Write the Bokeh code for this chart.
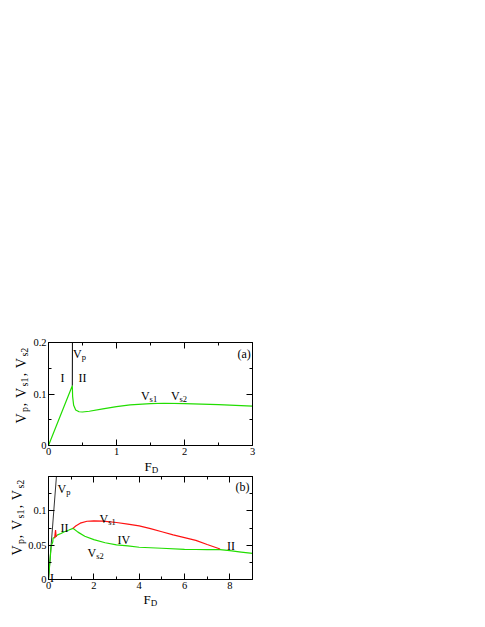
from bokeh.plotting import figure
from bokeh.models import Label, LinearAxis, FixedTicker, CustomJSTickFormatter, Range1d
from bokeh.layouts import column
from bokeh.embed import file_html
from bokeh.resources import INLINE

# ---------------- data: panel (a) ----------------
fa_green = [0, 0.35, 0.355, 0.37, 0.40, 0.45, 0.5, 0.6, 0.8, 1.0, 1.2, 1.5, 1.7, 2.0, 2.5, 3.0]
va_green = [0, 0.116, 0.095, 0.078, 0.069, 0.0655, 0.065, 0.0665, 0.071, 0.0755, 0.079, 0.0815, 0.082,
            0.0815, 0.0795, 0.0765]
fa_vp = [0.35, 0.352]
va_vp = [0.116, 0.2]

# ---------------- data: panel (b) ----------------
fb_vp = [0, 0.35]
vb_vp = [0, 0.15]
fb_green = [0, 0.12, 0.16, 0.19, 0.2, 0.25, 0.3, 0.4, 0.55, 0.7, 0.9, 1.08, 1.3, 1.6, 2.0, 2.5, 3.0,
            3.5, 4.0, 5.0, 6.0, 6.5, 7.0, 7.57, 8.0, 8.5, 9.0]
vb_green = [0, 0.05, 0.052, 0.055, 0.06, 0.061, 0.062, 0.065, 0.067, 0.0695, 0.072, 0.0745, 0.069, 0.063,
            0.058, 0.0535, 0.0505, 0.049, 0.047, 0.0455, 0.044, 0.0437, 0.0435, 0.0435, 0.042, 0.040, 0.038]
fb_red = [1.08, 1.2, 1.4, 1.7, 2.0, 2.4, 3.0, 3.5, 4.0, 4.5, 5.0, 5.5, 6.0, 6.5, 7.0, 7.57]
vb_red = [0.0745, 0.078, 0.082, 0.0848, 0.0855, 0.085, 0.083, 0.0807, 0.078, 0.074, 0.0696, 0.065,
          0.061, 0.057, 0.051, 0.0445]
fb_spike = [0.27, 0.29, 0.31, 0.33, 0.35]
vb_spike = [0.06, 0.066, 0.072, 0.065, 0.062]

# ---------------- ticks ----------------
a_xticks = [0, 1, 2, 3]
a_xminor = [0.5, 1.5, 2.5]
a_yticks = [0, 0.1, 0.2]
a_yminor = [0.05, 0.15]
b_xticks = [0, 2, 4, 6, 8]
b_xminor = [1, 3, 5, 7, 9]
b_yticks = [0, 0.05, 0.1]
b_yminor = [0.025, 0.075, 0.125, 0.15]

FONT = "Liberation Serif"
GREEN = "#22dd00"
RED = "#ff1111"

# page layout (pixels)
CW = 262            # canvas width
BOX_L, BOX_W = 48, 204
BOX_H = 103
A_H, A_TOP = 475, 342     # figure (a) canvas height, box top
B_H, B_TOP = 148, 1       # figure (b) canvas height, box top (inside its canvas)

ADV = {'V': 722, 'p': 500, ',': 250, ' ': 250, 's': 389, '1': 500, '2': 500, 'F': 556, 'D': 722,
       'I': 333, '(': 333, ')': 333, 'a': 444, 'b': 500}


def tw(t, size):
    return sum(ADV.get(c, 500) for c in t) * size / 1000.0


fmt = CustomJSTickFormatter(code="return String(Math.round(tick*1000)/1000);")


def make_fig(xmax, ymax, H, top, xt, xm, yt, ym):
    sx = xmax / BOX_W
    sy = ymax / BOX_H
    bottom_px = top + BOX_H
    xr = Range1d(-BOX_L * sx, (CW - BOX_L) * sx)
    yr = Range1d(-(H - bottom_px) * sy, bottom_px * sy)
    p = figure(width=CW, height=H, x_range=xr, y_range=yr, output_backend="svg",
               toolbar_location=None, x_axis_location=None, y_axis_location=None,
               min_border=0, min_border_left=0, min_border_right=0, min_border_top=0, min_border_bottom=0)
    p.outline_line_color = None
    p.xgrid.grid_line_color = None
    p.ygrid.grid_line_color = None
    p.background_fill_color = "white"
    p.border_fill_color = "white"

    def axis(side, loc, bounds, ticks, minor, tin, labelled):
        ax = LinearAxis(ticker=FixedTicker(ticks=ticks, minor_ticks=minor), fixed_location=loc,
                        bounds=bounds)
        ax.major_tick_in = 6
        ax.major_tick_out = 0
        ax.minor_tick_in = tin
        ax.minor_tick_out = 0
        ax.axis_line_color = "black"
        ax.major_tick_line_color = "black"
        ax.minor_tick_line_color = "black"
        if labelled:
            ax.formatter = fmt
            ax.major_label_text_font = FONT
            ax.major_label_text_font_size = "10.5px"
            ax.major_label_text_color = "black"
            ax.major_label_standoff = 2
        p.add_layout(ax, side)

    axis("below", 0, (0, xmax), xt, xm, 3, True)
    axis("left", 0, (0, ymax), yt, ym, 3, True)
    axis("above", ymax, (0, xmax), [], xt, 6, False)
    axis("above", ymax, (0, xmax), [], xm, 3, False)
    axis("right", xmax, (0, ymax), [], yt, 6, False)
    axis("right", xmax, (0, ymax), [], ym, 3, False)
    return p, sx, sy


def put(p, x, y, text, size=12, angle=0):
    p.add_layout(Label(x=x, y=y, text=text, text_font=FONT, text_font_size=f"{size}px",
                       text_color="black", text_align="left", text_baseline="alphabetic",
                       angle=angle, angle_units="deg"))


def put_pieces(p, x, y, pieces, sx, sy, main=12, sub=8.5, rotated=False, spread=1.0, drop=3.0):
    d = 0.0
    for txt, is_sub in pieces:
        size = sub if is_sub else main
        dd = drop if is_sub else 0.0
        if rotated:
            put(p, x + dd * sx, y + d * sy, txt, size, angle=90)
        else:
            put(p, x + d * sx, y - dd * sy, txt, size)
        d += tw(txt, size) * spread


YLAB = [("V", False), ("p", True), (", ", False), ("V", False), ("s1", True), (", ", False),
        ("V", False), ("s2", True)]

# ---------------- panel (a) ----------------
pa, sxa, sya = make_fig(3, 0.2, A_H, A_TOP, a_xticks, a_xminor, a_yticks, a_yminor)
pa.line(fa_vp, va_vp, line_color="black", line_width=1)
pa.line(fa_green, va_green, line_color=GREEN, line_width=1.2)
put(pa, 0.177, 0.132, "I")
put(pa, 0.443, 0.132, "II")
put_pieces(pa, 0.362, 0.1786, [("V", False), ("p", True)], sxa, sya)
put_pieces(pa, 1.359, 0.097, [("V", False), ("s1", True)], sxa, sya)
put_pieces(pa, 1.80, 0.097, [("V", False), ("s2", True)], sxa, sya)
put(pa, 2.78, 0.1767, "(a)")
put_pieces(pa, 1.412, -0.0408, [("F", False), ("D", True)], sxa, sya, main=13, sub=9, drop=3.5)
put_pieces(pa, -0.40, 0.0427, YLAB, sxa, sya, main=14, sub=10, rotated=True, spread=1.15)

# ---------------- panel (b) ----------------
pb, sxb, syb = make_fig(9, 0.15, B_H, B_TOP, b_xticks, b_xminor, b_yticks, b_yminor)
pb.line(fb_vp, vb_vp, line_color="#333333", line_width=1)
pb.line(fb_green, vb_green, line_color=GREEN, line_width=1.2)
pb.line(fb_red, vb_red, line_color=RED, line_width=1.2)
pb.line(fb_spike, vb_spike, line_color=RED, line_width=1.2)
put_pieces(pb, 0.40, 0.1325, [("V", False), ("p", True)], sxb, syb)
put(pb, 0.53, 0.0757, "II")
put_pieces(pb, 2.25, 0.0874, [("V", False), ("s1", True)], sxb, syb)
put(pb, 3.04, 0.0568, "IV")
put_pieces(pb, 1.72, 0.0379, [("V", False), ("s2", True)], sxb, syb)
put(pb, 7.88, 0.0485, "II")
put(pb, 0.066, 0.0029, "I")
put(pb, 8.25, 0.134, "(b)")
put_pieces(pb, 4.191, -0.02985, [("F", False), ("D", True)], sxb, syb, main=13, sub=9, drop=3.5)
put_pieces(pb, -1.35, 0.03495, YLAB, sxb, syb, main=14, sub=10, rotated=True, spread=1.15)

layout = column(pa, pb)
open("out.html", "w").write(file_html(layout, INLINE))
